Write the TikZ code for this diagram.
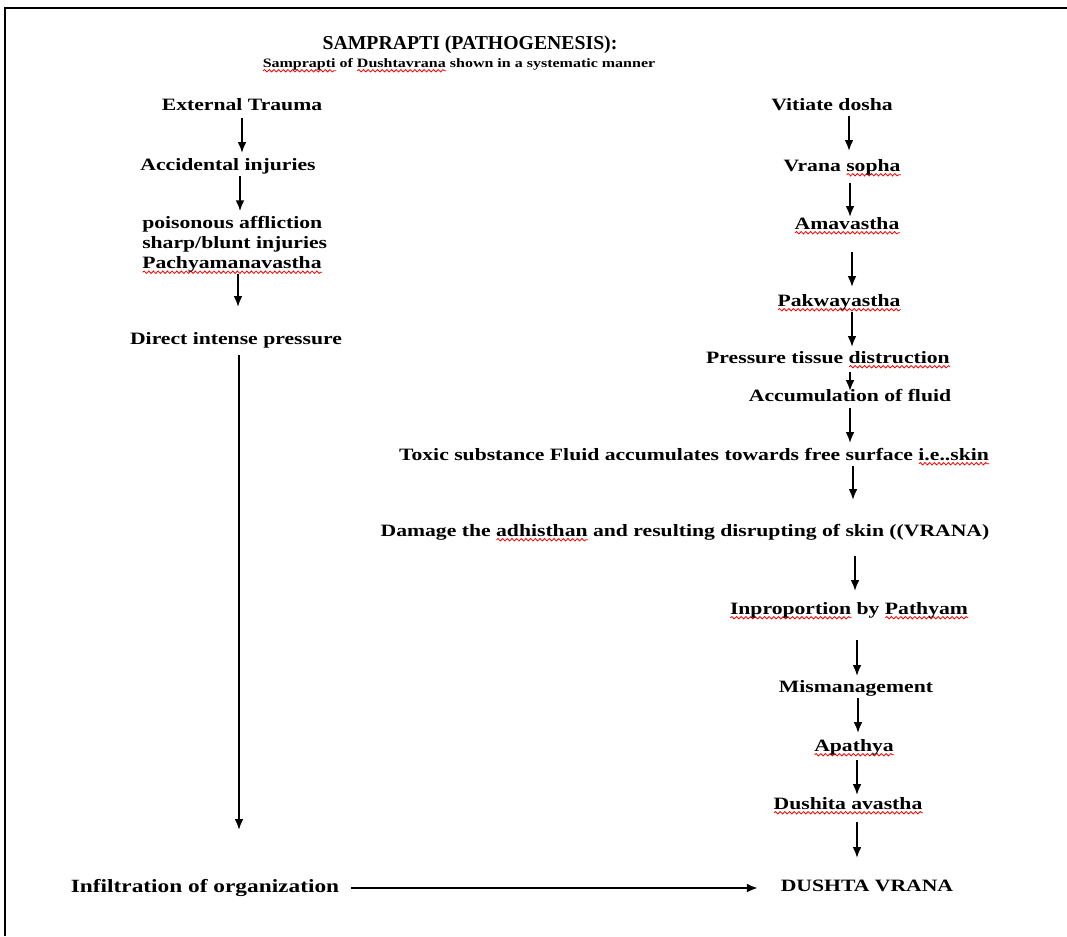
\documentclass[tikz,border=0pt]{standalone}
\usepackage{fontspec}
\usetikzlibrary{arrows.meta,decorations.pathmorphing}
\setmainfont{Liberation Serif}
\newfontfamily\stagefont[FakeStretch=1.25]{Liberation Serif}
\newsavebox\spbox
\newcommand\sperr[1]{\sbox\spbox{#1}\makebox[0pt][l]{\raisebox{-2.8pt}{\tikz[x=1pt,y=1pt,baseline=0pt]\draw[red,line width=0.6pt,decorate,decoration={snake,amplitude=0.9pt,segment length=3.5pt}] (0,0) -- (\the\wd\spbox,0);}}\usebox\spbox}

\begin{document}
\begin{tikzpicture}
[
  x=0.75pt, y=-0.75pt,
  >={Latex[length=8pt,width=6.5pt]},
  stage/.style = {font=\stagefont\bfseries\fontsize{13}{15}\selectfont, inner sep=0pt, text height=9pt, text depth=3pt, anchor=base},
  block/.style = {font=\stagefont\bfseries\fontsize{13}{15}\selectfont, inner sep=0pt, align=left, anchor=north west},
  flow/.style = {->, line width=1pt},
  frame/.style = {line width=1.8pt},
]
\useasboundingbox (0,0) rectangle (1067,936);
\draw[frame] (5,936) -- (5,8) -- (1067,8);

\node (T) at (470,49) [anchor=base, inner sep=0pt, font=\bfseries\fontsize{14.8}{16}\selectfont] {SAMPRAPTI (PATHOGENESIS):};
\node (ST) at (459,67) [anchor=base, inner sep=0pt, font=\stagefont\bfseries\fontsize{9.6}{12}\selectfont] {\sperr{Samprapti} of \sperr{Dushtavrana} shown in a systematic manner};

\node (ET) at (242,110) [stage] {External Trauma};
\node (AI) at (228,170) [stage] {Accidental injuries};
\node (PB) at (142,216) [block] {poisonous affliction\\sharp/blunt injuries\\\sperr{Pachyamanavastha}};
\node (DP) at (236,344) [stage] {Direct intense pressure};
\node (IO) at (205,892) [stage, font=\stagefont\bfseries\fontsize{14}{16}\selectfont] {Infiltration of organization};

\node (VD) at (832,110) [stage] {Vitiate dosha};
\node (VS) at (842,171) [stage] {Vrana \sperr{sopha}};
\node (AM) at (847,229) [stage] {\sperr{Amavastha}};
\node (PK) at (839,306) [stage] {\sperr{Pakwayastha}};
\node (PT) at (828,363) [stage] {Pressure tissue \sperr{distruction}};
\node (AF) at (850,401) [stage] {Accumulation of fluid};
\node (TS) at (694,460) [stage] {Toxic substance Fluid accumulates towards free surface \sperr{i.e..skin}};
\node (DA) at (685,536) [stage] {Damage the \sperr{adhisthan} and resulting disrupting of skin ((VRANA)};
\node (IP) at (849,614) [stage] {\sperr{Inproportion} by \sperr{Pathyam}};
\node (MM) at (856,692) [stage] {Mismanagement};
\node (AP) at (854,751) [stage] {\sperr{Apathya}};
\node (DU) at (848,809) [stage] {\sperr{Dushita avastha}};
\node (DV) at (867,891) [stage] {DUSHTA VRANA};

\draw[flow, shorten <=3pt, shorten >=3.75pt] (ET.south) -- (ET.south |- AI.north);
\draw[flow, shorten <=1.5pt, shorten >=3.75pt] ([xshift=9pt]AI.south) -- ([xshift=9pt]AI.south |- PB.north);
\draw[flow, shorten >=18.75pt] ([xshift=72pt]PB.south west) -- ([xshift=72pt]PB.south west |- DP.north);
\draw[flow, shorten <=5.25pt, shorten >=37.5pt] ([xshift=2.25pt]DP.south) -- ([xshift=2.25pt]DP.south |- IO.north);
\draw[flow, shorten <=9pt, shorten >=17.25pt] (IO.east) -- (IO.east -| DV.west);

\draw[flow, shorten <=1.5pt, shorten >=6pt] ([xshift=12.75pt]VD.south) -- ([xshift=12.75pt]VD.south |- VS.north);
\draw[flow, shorten <=6pt] ([xshift=6pt]VS.south) -- ([xshift=6pt]VS.south |- AM.north);
\draw[flow, shorten <=14.25pt, shorten >=5.25pt] ([xshift=3.75pt]AM.south) -- ([xshift=3.75pt]AM.south |- PK.north);
\draw[flow, shorten <=1.5pt, shorten >=3pt] ([xshift=9.75pt]PK.south) -- ([xshift=9.75pt]PK.south |- PT.north);
\draw[flow, shorten <=3.75pt, shorten >=-1.5pt] ([xshift=16.5pt]PT.south) -- ([xshift=16.5pt]PT.south |- AF.north);
\draw[flow, shorten <=2.25pt, shorten >=3.75pt] (AF.south) -- (AF.south |- TS.north);
\draw[flow, shorten <=1.5pt, shorten >=18pt] ([xshift=119.25pt]TS.south) -- ([xshift=119.25pt]TS.south |- DA.north);
\draw[flow, shorten <=12pt, shorten >=8.25pt] ([xshift=127.5pt]DA.south) -- ([xshift=127.5pt]DA.south |- IP.north);
\draw[flow, shorten <=16.5pt, shorten >=3pt] ([xshift=6pt]IP.south) -- ([xshift=6pt]IP.south |- MM.north);
\draw[flow, shorten <=1.5pt, shorten >=4.5pt] ([xshift=1.5pt]MM.south) -- ([xshift=1.5pt]MM.south |- AP.north);
\draw[flow, shorten <=3.75pt, shorten >=1.5pt] ([xshift=2.25pt]AP.south) -- ([xshift=2.25pt]AP.south |- DU.north);
\draw[flow, shorten <=6.75pt, shorten >=15.75pt] ([xshift=6.75pt]DU.south) -- ([xshift=6.75pt]DU.south |- DV.north);

\end{tikzpicture}
\end{document}
